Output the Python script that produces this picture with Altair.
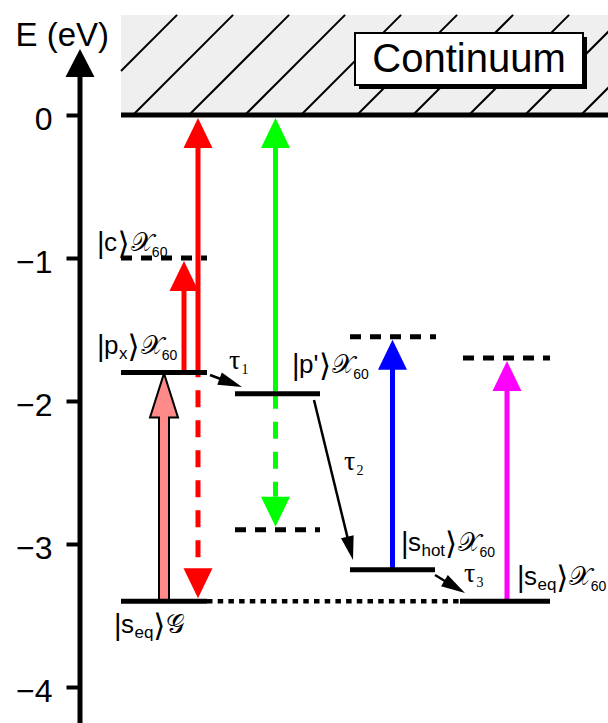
import math
import altair as alt
import pandas as pd

# ---------------------------------------------------------------- geometry
W, H = 608, 723            # canvas
AXIS_X = 80                # the energy axis sits at this x
PX_PER_EV = 143.0          # vertical pixels per eV
ZERO_ROW = 115.0           # pixel row of E = 0


def e_at(row):
    """energy shown at a pixel row"""
    return (ZERO_ROW - row) / PX_PER_EV


def row_of(e):
    return ZERO_ROW - e * PX_PER_EV


E_TOP = e_at(0)
E_BOTTOM = e_at(H)

# ---------------------------------------------------------------- data
# bound states (solid levels), eV
level_names = ["vacuum", "p_x", "p'", "s_hot", "s_eq (G)", "s_eq (X60)"]
level_energy = [0.00, -1.80, -1.95, -3.18, -3.40, -3.40]
level_x0 = [121, 121, 235, 350, 121, 460]
level_x1 = [608, 207, 320, 435, 207, 550]

# virtual levels reached by the probe photons (dashed), eV
virtual_names = ["c", "green probe", "blue probe", "magenta probe"]
virtual_energy = [-1.00, -2.90, -1.55, -1.70]
virtual_x0 = [121, 235, 350, 463]
virtual_x1 = [207, 320, 436, 550]

# ground state continued under the other columns (dotted)
dotted_energy = [-3.40]
dotted_x0 = [207]
dotted_x1 = [460]

# continuum above the vacuum level
continuum_top = 0.70

# optical transitions
arrow_x = [184, 198, 275.5, 392.5, 507]
arrow_from = [-1.80, -1.80, -1.95, -3.18, -3.40]
arrow_to = [-1.00, 0.00, 0.00, -1.55, -1.70]
arrow_color = ["#ff0000", "#ff0000", "#00ff00", "#0000ff", "#ff00ff"]

# downward (dashed) transitions
down_x = [198, 275.5]
down_from = [-1.80, -1.95]
down_to = [-3.40, -2.90]
down_color = ["#ff0000", "#00ff00"]
down_dash_offset = [19, 2]

# pump transition
pump_x = 164
pump_from = -3.40
pump_to = -1.80
pump_color = "#ff8a8a"

# relaxation steps (start x, start E, end x, end E)
relax_names = ["τ1", "τ2", "τ3"]
relax_x0 = [210, 314, 435]
relax_e0 = [-1.818, -1.993, -3.217]
relax_x1 = [242, 353, 465]
relax_e1 = [-1.902, -3.112, -3.343]

# axis ticks
tick_values = [0, -1, -2, -3, -4]

# ---------------------------------------------------------------- scales
x_scale = alt.Scale(domain=[AXIS_X, W], nice=False, zero=False)
y_scale = alt.Scale(domain=[E_BOTTOM, E_TOP], nice=False, zero=False)
y_axis = alt.Axis(
    values=tick_values, format="d", domain=False, grid=False,
    ticks=True, tickSize=14, tickWidth=4, tickColor="black",
    labelFont="Liberation Sans", labelFontSize=32, labelColor="black",
    labelPadding=14, labelOffset=4,
    title="E (eV)", titleFont="Liberation Sans", titleFontSize=33,
    titleFontWeight="normal", titleColor="black", titleAngle=0,
    titleX=-65, titleY=45, titleAlign="left", titleBaseline="alphabetic",
)


def X(f="x"):
    return alt.X(f"{f}:Q", scale=x_scale, axis=None)


def Y(f="y"):
    return alt.Y(f"{f}:Q", scale=y_scale, axis=y_axis)


def tri_up(half_w, height):
    a = half_w / height
    return f"M0,0L{-a:.4f},1L{a:.4f},1Z", (2 * height) ** 2


def tri_down(half_w, height):
    a = half_w / height
    return f"M0,0L{-a:.4f},-1L{a:.4f},-1Z", (2 * height) ** 2


layers = []

# ---------------------------------------------------------------- continuum
cont = pd.DataFrame({"x": [121], "x2": [W], "y": [0.0], "y2": [continuum_top]})
layers.append(alt.Chart(cont).mark_rect(color="#efefef").encode(
    x=X(), x2="x2:Q", y=Y(), y2="y2:Q"))

hatch = []
rise = continuum_top * PX_PER_EV
for k in range(-1, 9):
    xb = 133 + 56 * k
    xs, hs = xb, 0.0
    if xs < 121:
        hs = 121 - xs
        xs = 121
    hatch.append({"x": xs, "y": hs / PX_PER_EV, "x2": xb + rise, "y2": continuum_top})
layers.append(alt.Chart(pd.DataFrame(hatch)).mark_rule(
    color="black", strokeWidth=2, clip=True).encode(
    x=X(), y=Y(), x2="x2:Q", y2="y2:Q"))

box = pd.DataFrame({"x": [355], "x2": [583], "y": [e_at(33)], "y2": [e_at(85)]})
shadow = pd.DataFrame({"x": [359], "x2": [587], "y": [e_at(37)], "y2": [e_at(89)]})
layers.append(alt.Chart(shadow).mark_rect(color="black").encode(
    x=X(), x2="x2:Q", y=Y(), y2="y2:Q"))
layers.append(alt.Chart(box).mark_rect(fill="white", stroke="black", strokeWidth=2).encode(
    x=X(), x2="x2:Q", y=Y(), y2="y2:Q"))
layers.append(alt.Chart(pd.DataFrame({"x": [469], "y": [e_at(60)], "t": ["Continuum"]}))
              .mark_text(font="Liberation Sans", fontSize=40, color="black",
                         align="center", baseline="middle")
              .encode(x=X(), y=Y(), text="t:N"))

# ---------------------------------------------------------------- energy axis arrow
axis_head_tip = e_at(49)
axis_shaft = pd.DataFrame({"x": [AXIS_X], "y": [E_BOTTOM], "y2": [axis_head_tip - 26 / PX_PER_EV]})
layers.append(alt.Chart(axis_shaft).mark_rule(color="black", strokeWidth=5).encode(
    x=X(), y=Y(), y2="y2:Q"))
p, s = tri_up(14.5, 28)
layers.append(alt.Chart(pd.DataFrame({"x": [AXIS_X], "y": [axis_head_tip]})).mark_point(
    shape=p, size=s, filled=True, opacity=1, color="black", strokeWidth=0).encode(x=X(), y=Y()))

# ---------------------------------------------------------------- arrow shafts
GAP = 3 / PX_PER_EV
HEAD_H = 30
ups = pd.DataFrame({"x": arrow_x, "y": arrow_from,
                    "y2": [t - GAP - 15 / PX_PER_EV for t in arrow_to],
                    "c": arrow_color})
layers.append(alt.Chart(ups).mark_rule(strokeWidth=5).encode(
    x=X(), y=Y(), y2="y2:Q", color=alt.Color("c:N", scale=None)))

for xv, e0, e1, col, off in zip(down_x, down_from, down_to, down_color, down_dash_offset):
    base = e1 + GAP + HEAD_H / PX_PER_EV
    d = pd.DataFrame({"x": [xv], "y": [base], "y2": [e0]})
    layers.append(alt.Chart(d).mark_rule(
        strokeWidth=5, color=col, strokeDash=[17, 13], strokeDashOffset=off).encode(
        x=X(), y=Y(), y2="y2:Q"))

# pump arrow: outlined shaft
pump_tip = pump_to - 1 / PX_PER_EV
layers.append(alt.Chart(pd.DataFrame({"x": [pump_x], "y": [pump_from],
                                      "y2": [pump_tip - 44 / PX_PER_EV]}))
              .mark_rule(color="black", strokeWidth=12).encode(x=X(), y=Y(), y2="y2:Q"))
p, s = tri_up(14, 44)
layers.append(alt.Chart(pd.DataFrame({"x": [pump_x], "y": [pump_tip]})).mark_point(
    shape=p, size=s, filled=True, opacity=1, fill=pump_color, stroke="black",
    strokeWidth=2).encode(x=X(), y=Y()))
layers.append(alt.Chart(pd.DataFrame({"x": [pump_x], "y": [pump_from],
                                      "y2": [pump_tip - 40 / PX_PER_EV]}))
              .mark_rule(color=pump_color, strokeWidth=8).encode(x=X(), y=Y(), y2="y2:Q"))

# ---------------------------------------------------------------- levels
lv = pd.DataFrame({"name": level_names, "y": level_energy, "x": level_x0, "x2": level_x1})
layers.append(alt.Chart(lv).mark_rule(color="black", strokeWidth=5).encode(
    x=X(), x2="x2:Q", y=Y()))
vv = pd.DataFrame({"name": virtual_names, "y": virtual_energy, "x": virtual_x0, "x2": virtual_x1})
layers.append(alt.Chart(vv).mark_rule(color="black", strokeWidth=5, strokeDash=[11, 9]).encode(
    x=X(), x2="x2:Q", y=Y()))
dv = pd.DataFrame({"y": dotted_energy, "x": dotted_x0, "x2": dotted_x1})
layers.append(alt.Chart(dv).mark_rule(color="black", strokeWidth=4.5, strokeDash=[5.5, 5.2]).encode(
    x=X(), x2="x2:Q", y=Y()))

# ---------------------------------------------------------------- arrow heads
p, s = tri_up(14.5, HEAD_H)
heads_up = pd.DataFrame({"x": arrow_x, "y": [t - GAP for t in arrow_to], "c": arrow_color})
layers.append(alt.Chart(heads_up).mark_point(
    shape=p, size=s, filled=True, opacity=1, strokeWidth=0).encode(
    x=X(), y=Y(), color=alt.Color("c:N", scale=None)))
p, s = tri_down(14.5, HEAD_H)
heads_dn = pd.DataFrame({"x": down_x, "y": [t + GAP for t in down_to], "c": down_color})
layers.append(alt.Chart(heads_dn).mark_point(
    shape=p, size=s, filled=True, opacity=1, strokeWidth=0).encode(
    x=X(), y=Y(), color=alt.Color("c:N", scale=None)))

# ---------------------------------------------------------------- relaxation arrows
RH = 24
lines, tips = [], []
for x0, e0, x1, e1 in zip(relax_x0, relax_e0, relax_x1, relax_e1):
    dx = x1 - x0
    dy = row_of(e1) - row_of(e0)
    L = math.hypot(dx, dy)
    ux, uy = dx / L, dy / L
    bx = x1 - ux * (RH - 2)
    by = row_of(e1) - uy * (RH - 2)
    lines.append({"x": x0, "y": e0, "x2": bx, "y2": e_at(by)})
    tips.append({"x": x1, "y": e1, "ang": math.degrees(math.atan2(dx, -dy)) % 360})
layers.append(alt.Chart(pd.DataFrame(lines)).mark_rule(color="black", strokeWidth=2.5).encode(
    x=X(), y=Y(), x2="x2:Q", y2="y2:Q"))
p, s = tri_up(6.5, RH)
layers.append(alt.Chart(pd.DataFrame(tips)).mark_point(
    shape=p, size=s, filled=True, opacity=1, color="black", strokeWidth=0).encode(
    x=X(), y=Y(), angle=alt.Angle("ang:Q", scale=None)))

# ---------------------------------------------------------------- labels
SANS = "Liberation Sans, DejaVu Sans"
KET = "DejaVu Sans ExtraLight, DejaVu Sans"
CAL = "DejaVu Serif, DejaVu Sans, serif"
SERIF = "Liberation Serif, DejaVu Serif"
ROLE = {
    #        font   size shift(px down)
    "bar": (SANS, 29, 2),
    "main": (SANS, 26, 0),
    "sub": (SANS, 17, 5),
    "ket": (KET, 31, 3),
    "cal": (CAL, 26, 0),
    "msub": (SANS, 14, 6),
    "tau": (SERIF, 28, 0),
    "tsub": (SERIF, 14, 5),
}
ADV = {"|": 0.24, "p": 0.556, "c": 0.5, "s": 0.5, "x": 0.5, "e": 0.556, "q": 0.556,
       "h": 0.556, "o": 0.556, "t": 0.278, "'": 0.191, "6": 0.556, "0": 0.556,
       "1": 0.5, "2": 0.5, "3": 0.5, "⟩": 0.39, "𝒳": 0.82, "𝒢": 0.7, "τ": 0.45}
AFTER = {"ket": 1, "main": 0.5}


def compose(parts, x0, e_level, dy):
    rows = []
    x = x0
    base = row_of(e_level) + dy
    for text, role in parts:
        font, fs, shift = ROLE[role]
        rows.append({"x": x, "y": e_at(base + shift), "t": text, "fs": fs, "font": font})
        x += sum(ADV.get(ch, 0.55) for ch in text) * fs + AFTER.get(role, 0)
    return rows


X60 = [("𝒳", "cal"), ("60", "msub")]
label_rows = []
label_rows += compose([("|", "bar"), ("c", "main"), ("⟩", "ket")] + X60, 97, -1.00, -7)
label_rows += compose([("|", "bar"), ("p", "main"), ("x", "sub"), ("⟩", "ket")] + X60, 97, -1.80, -18)
label_rows += compose([("|", "bar"), ("p'", "main"), ("⟩", "ket")] + X60, 292, -1.95, -21)
label_rows += compose([("|", "bar"), ("s", "main"), ("hot", "sub"), ("⟩", "ket")] + X60, 401, -3.18, -19)
label_rows += compose([("|", "bar"), ("s", "main"), ("eq", "sub"), ("⟩", "ket")] + X60, 517, -3.40, -16)
label_rows += compose([("|", "bar"), ("s", "main"), ("eq", "sub"), ("⟩", "ket"), ("𝒢", "cal")], 114, -3.40, 32)
label_rows += compose([("τ", "tau"), ("1", "tsub")], 229, e_at(369), 0)
label_rows += compose([("τ", "tau"), ("2", "tsub")], 344, e_at(470), 0)
label_rows += compose([("τ", "tau"), ("3", "tsub")], 464, e_at(582), 0)

lab = pd.DataFrame(label_rows)
for font, grp in lab.groupby("font"):
    layers.append(alt.Chart(grp).mark_text(
        font=font, color="black", align="left", baseline="alphabetic").encode(
        x=X(), y=Y(), text="t:N", size=alt.Size("fs:Q", scale=None)))

chart = alt.layer(*layers).properties(
    width=W - AXIS_X, height=H,
    padding={"left": AXIS_X, "top": 0, "right": 0, "bottom": 0},
    autosize=alt.AutoSizeParams(type="none"),
    background="white",
).configure_view(stroke=None)

chart.save("out.html", embed_options={"renderer": "svg", "actions": False})
